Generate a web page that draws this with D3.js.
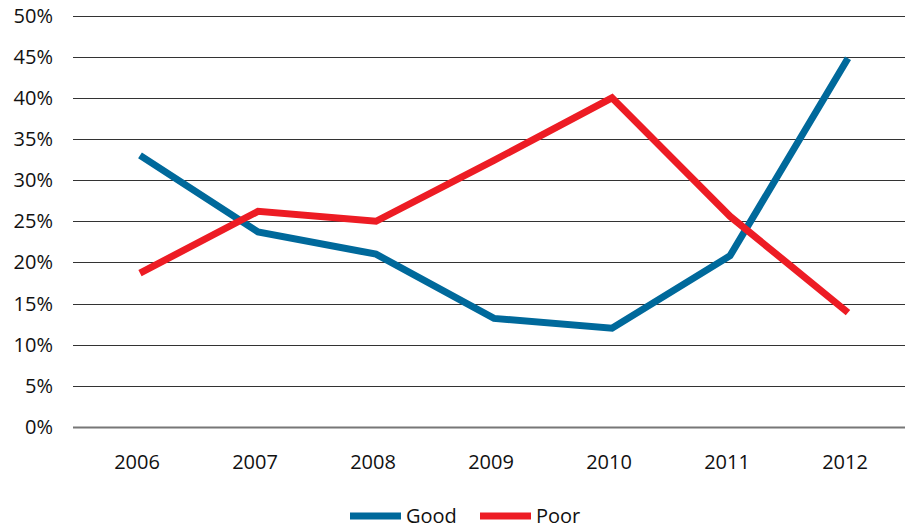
<!DOCTYPE html>
<html><head><meta charset="utf-8">
<script src="https://cdn.jsdelivr.net/npm/d3@7"></script>
<style>body{margin:0;background:#fff}svg{display:block}</style>
</head><body><svg id="c" width="905" height="529"></svg>
<script>
const years = ["2006","2007","2008","2009","2010","2011","2012"];
const good = [33.0, 23.7, 21.0, 13.2, 12.0, 20.8, 44.8];
const poor = [18.7, 26.2, 25.0, 32.4, 40.0, 25.6, 13.9];
const yTicks = [0,5,10,15,20,25,30,35,40,45,50];
const seriesNames = ["Good","Poor"];
const colors = ["#00699b","#ed1c24"];

const svg = d3.select("#c");
const x = d3.scaleBand().domain(years).range([81, 907]);
const y = d3.scaleLinear().domain([0,50]).range([427, 15.5]);
const font = "'Open Sans', 'Liberation Sans', sans-serif";

svg.append("g").selectAll("line").data(yTicks).join("line")
  .attr("x1",73).attr("x2",905)
  .attr("y1",d=>Math.round(y(d))+0.5).attr("y2",d=>Math.round(y(d))+0.5)
  .attr("stroke",d=>d===0?"#777":"#333").attr("stroke-width",d=>d===0?2:1);

svg.append("g").selectAll("text").data(yTicks).join("text")
  .attr("x",53).attr("y",d=>y(d)+7).attr("text-anchor","end")
  .attr("font-family",font).attr("font-size",20).attr("fill","#111")
  .text(d=>d+"%");

svg.append("g").selectAll("text").data(years).join("text")
  .attr("x",d=>x(d)+x.bandwidth()/2-3).attr("y",469).attr("text-anchor","middle")
  .attr("font-family",font).attr("font-size",20).attr("fill","#111")
  .text(d=>d);

const line = d3.line().x((d,i)=>x(years[i])+x.bandwidth()/2).y(d=>y(d));
[good,poor].forEach((s,i)=>{
  svg.append("path").attr("d",line(s)).attr("fill","none")
    .attr("stroke",colors[i]).attr("stroke-width",7).attr("stroke-linejoin","miter");
});

const lg = svg.append("g");
const lx = [350, 480];
seriesNames.forEach((n,i)=>{
  lg.append("line").attr("x1",lx[i]).attr("x2",lx[i]+51).attr("y1",516).attr("y2",516)
    .attr("stroke",colors[i]).attr("stroke-width",7);
  lg.append("text").attr("x",lx[i]+56).attr("y",523).attr("font-family",font)
    .attr("font-size",20).attr("fill","#111").text(n);
});
</script></body></html>
